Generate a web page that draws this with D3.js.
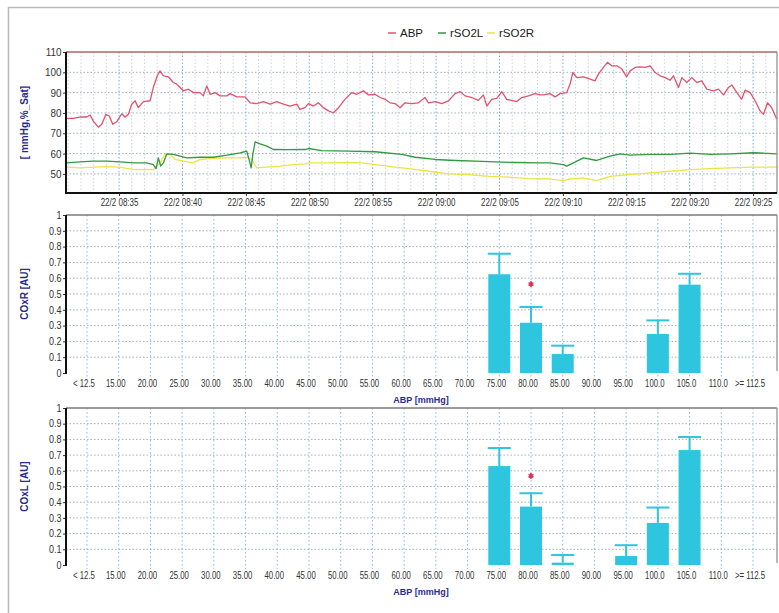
<!DOCTYPE html>
<html><head><meta charset="utf-8">
<script src="https://cdn.jsdelivr.net/npm/d3@7"></script>
<style>
html,body{margin:0;padding:0;background:#fff;}
svg{display:block;}
text{font-family:"Liberation Sans Narrow","Arial Narrow","Liberation Sans",Arial,sans-serif;}
</style></head><body>
<svg id="c" width="779" height="613"></svg>
<script>
// ---------- DATA ----------
const dateLabel = "22/2";
const timeStart = "08:30:49", timeEnd = "09:26:53";

const abpTimes = ["08:30:49","08:31:24","08:31:55","08:32:27","08:32:43","08:32:58","08:33:22","08:33:38","08:33:58","08:34:14","08:34:30","08:34:49","08:35:13","08:35:28","08:35:44","08:36:00","08:36:16","08:36:31","08:36:55","08:37:27","08:37:42","08:38:01","08:38:14","08:38:30","08:38:53","08:39:17","08:39:33","08:39:49","08:40:04","08:40:28","08:40:52","08:41:23","08:41:39","08:41:55","08:42:11","08:42:34","08:42:58","08:43:30","08:43:45","08:44:17","08:44:56","08:45:20","08:45:51","08:46:23","08:46:55","08:47:26","08:47:58","08:48:29","08:49:01","08:49:16","08:49:40","08:49:56","08:50:20","08:50:43","08:51:07","08:51:31","08:51:54","08:52:18","08:52:49","08:53:21","08:53:45","08:54:16","08:54:40","08:55:11","08:55:35","08:55:59","08:56:22","08:56:46","08:57:10","08:57:33","08:58:05","08:58:36","08:59:08","08:59:24","08:59:55","09:00:27","09:00:58","09:01:30","09:01:54","09:02:17","09:02:49","09:03:20","09:03:44","09:04:00","09:04:23","09:04:47","09:05:11","09:05:34","09:05:58","09:06:22","09:06:45","09:07:17","09:07:48","09:08:12","09:08:28","09:08:59","09:09:23","09:09:47","09:10:18","09:10:34","09:10:47","09:11:06","09:11:37","09:12:09","09:12:32","09:12:48","09:13:12","09:13:31","09:13:51","09:14:15","09:14:39","09:15:02","09:15:18","09:15:42","09:16:05","09:16:29","09:16:53","09:17:16","09:17:40","09:18:04","09:18:27","09:18:43","09:19:07","09:19:23","09:19:46","09:20:10","09:20:34","09:20:57","09:21:21","09:21:52","09:22:16","09:22:40","09:23:03","09:23:19","09:23:43","09:24:06","09:24:22","09:24:46","09:25:10","09:25:33","09:25:49","09:26:08","09:26:28","09:26:52"];
const abpValues = [77.3,77.3,78,78,79,76,73,74.4,79.3,78.5,74.4,75.7,79.6,78,79.3,84.3,86,82.6,85.6,86,92.5,98.3,100.7,98.3,97.8,95,94.2,92.5,90.9,91.7,90,90,88.4,93.3,89.2,90,88.4,88.4,89.5,87.9,87.9,85,84.6,85.6,84.3,85.6,84.3,83.4,84.3,81.8,82.6,84.6,83.4,85,82.6,81,80.1,82.6,86.7,90,89.2,90.9,88.9,89.2,87.6,86.7,85,84.6,82.6,85,84.6,85,87.6,85,85.6,84.6,85.9,89.5,90.5,88.4,87.6,86.2,88.9,83.4,86.7,87.2,90.5,86.7,86.2,85.6,87.6,88.4,89.5,88.9,88.9,89.5,87.9,89.5,90,94.2,99.9,97.4,97.8,96.6,95.8,99.1,102.4,104.9,103.2,103.2,101.6,97.8,100.7,102.4,102.7,102.4,103.2,99.9,98.3,97.4,96.1,98.3,92.5,97.4,95,97.4,95,95.8,91.7,90.9,91.7,88.9,92.5,93.8,90,86.7,91.2,90,85.9,81,79.3,85,82.6,76.9];

const rso2lTimes = ["08:30:49","08:31:55","08:32:58","08:34:02","08:35:05","08:36:08","08:37:11","08:37:42","08:37:55","08:38:06","08:38:17","08:38:30","08:38:46","08:39:17","08:39:49","08:40:20","08:41:23","08:42:26","08:43:30","08:44:33","08:45:04","08:45:17","08:45:25","08:45:33","08:45:44","08:46:07","08:46:39","08:47:10","08:48:13","08:49:40","08:49:56","08:50:59","08:53:05","08:55:11","08:57:18","08:58:21","08:59:55","09:01:30","09:03:05","09:04:39","09:06:14","09:08:12","09:08:59","09:10:03","09:10:18","09:10:50","09:11:37","09:12:40","09:13:43","09:14:31","09:15:18","09:16:53","09:18:27","09:20:02","09:21:37","09:23:11","09:25:02","09:26:53"];
const rso2lValues = [55.4,55.9,56.3,56.3,55.9,55.4,55.4,54.6,52.6,57.9,53.8,55.4,59.9,59.6,58.7,57.9,58.2,58.2,59.2,60.4,61.2,56.3,53,59.6,65.8,64.8,63.7,62,61.9,62,62.5,61.5,61.2,60.9,59.6,58.2,57.1,56.6,56.3,55.9,55.6,55.4,55.4,54.6,53.8,55.4,57.9,56.6,58.7,59.9,59.2,59.6,59.6,60.2,59.6,59.9,60.4,59.9];

const rso2rTimes = ["08:30:49","08:31:55","08:32:58","08:34:02","08:35:05","08:36:08","08:37:11","08:37:42","08:38:14","08:38:38","08:39:01","08:39:25","08:40:04","08:40:52","08:41:23","08:42:26","08:43:30","08:44:33","08:45:04","08:45:28","08:45:51","08:46:39","08:47:42","08:48:45","08:49:40","08:49:56","08:51:31","08:53:05","08:54:08","08:55:11","08:56:46","08:57:49","08:59:24","09:00:58","09:02:33","09:04:08","09:05:42","09:07:17","09:08:12","09:08:44","09:10:03","09:10:34","09:11:37","09:12:40","09:13:43","09:15:18","09:16:53","09:18:27","09:20:02","09:21:37","09:23:11","09:25:02","09:26:53"];
const rso2rValues = [53.3,53,53.3,53.6,53.3,52.1,52.1,52.1,55.4,59.6,59.6,57.1,56.3,55.4,57.1,57.6,57.9,57.9,58.2,57.1,53,53.3,53.8,54.6,54.9,55.4,55.4,55.6,55.4,54.6,53.3,52.6,51.3,50,49.7,48.8,48.4,47.7,47.5,47.7,46.7,47.5,48,46.7,48.8,49.7,50.5,51.3,52.1,52.6,53,53.3,53.3];

const seriesNames = ["ABP","rSO2L","rSO2R"];
const seriesColors = ["#e2536c","#2f9a40","#ece544"];
const topTicks = [50,60,70,80,90,100,110];

const categories = ["< 12.5","15.00","20.00","25.00","30.00","35.00","40.00","45.00","50.00","55.00","60.00","65.00","70.00","75.00","80.00","85.00","90.00","95.00","100.0","105.0","110.0",">= 112.5"];
const coxRCats = ["75.00","80.00","85.00","100.0","105.0"];
const coxRMean = [0.625,0.318,0.12,0.247,0.559];
const coxRUpper = [0.755,0.418,0.173,0.333,0.628];
const coxRStar = {cat:"80.00", value:0.563};

const coxLCats = ["75.00","80.00","85.00","95.00","100.0","105.0"];
const coxLMean = [0.63,0.372,0.015,0.057,0.268,0.732];
const coxLUpper = [0.745,0.457,0.064,0.126,0.366,0.815];
const coxLStar = {cat:"80.00", value:0.568};

const barTicks = [0,0.1,0.2,0.3,0.4,0.5,0.6,0.7,0.8,0.9,1];

// ---------- DRAW ----------
const svg = d3.select("#c");
const parse = d3.timeParse("%H:%M:%S");
const L = 66, R = 777;
const navy = "#2b2b8e";
const sans = "'Liberation Sans',Arial,sans-serif";

svg.append("rect").attr("x",8.5).attr("y",7.5).attr("width",800).attr("height",700)
  .attr("fill","none").attr("stroke","#b9b9b9").attr("stroke-width",1.5);

// ---- top panel ----
const T0 = 52, T1 = 193;
const x = d3.scaleTime().domain([parse(timeStart), parse(timeEnd)]).range([L, R]);
const yT = d3.scaleLinear().domain([40.6,110]).range([T1, T0]);

const gT = svg.append("g");
const minutes = d3.timeMinute.range(parse(timeStart), parse(timeEnd));
gT.selectAll("line.vg").data(minutes).join("line")
  .attr("x1", d=>x(d)).attr("x2", d=>x(d)).attr("y1", T0).attr("y2", T1)
  .attr("stroke", d=> d.getMinutes()%5===0 ? "#78aed6" : "#c9d3de")
  .attr("stroke-width",1).attr("stroke-dasharray","1.5,2");
gT.selectAll("line.hg").data(topTicks.filter(v=>v<110)).join("line")
  .attr("x1", L).attr("x2", R).attr("y1", d=>yT(d)).attr("y2", d=>yT(d))
  .attr("stroke","#9fb0c2").attr("stroke-width",1).attr("stroke-dasharray","1.5,2");

const seriesData = [
  d3.zip(rso2rTimes, rso2rValues),
  d3.zip(rso2lTimes, rso2lValues),
  d3.zip(abpTimes, abpValues)
];
const seriesCol = [seriesColors[2], seriesColors[1], seriesColors[0]];
const line = d3.line().x(d=>x(parse(d[0]))).y(d=>yT(d[1]));
seriesData.forEach((s,i)=>{
  gT.append("path").datum(s).attr("d", line).attr("fill","none")
    .attr("stroke", seriesCol[i]).attr("stroke-width", 1.3).attr("stroke-linejoin","round");
});

// borders
gT.append("line").attr("x1",L).attr("x2",R).attr("y1",T0).attr("y2",T0).attr("stroke","#a86a66").attr("stroke-width",1.5);
gT.append("line").attr("x1",R).attr("x2",R).attr("y1",T0).attr("y2",T1).attr("stroke","#8a8a8a").attr("stroke-width",1.2);
gT.append("line").attr("x1",L).attr("x2",R).attr("y1",T1).attr("y2",T1).attr("stroke","#111").attr("stroke-width",2);

const yAxT = d3.axisLeft(yT).tickValues(topTicks).tickSize(3).tickPadding(2);
const gyT = gT.append("g").attr("transform",`translate(${L},0)`).call(yAxT);
gyT.select(".domain").remove();
gyT.selectAll("text").attr("font-size",11).attr("fill","#333").style("font-family",null)
  .attr("transform","scale(0.9,1)");
gyT.selectAll("line").attr("stroke","#333");
gT.append("line").attr("x1",L).attr("x2",L).attr("y1",T0).attr("y2",T1+1).attr("stroke","#111").attr("stroke-width",2);

const xAxT = d3.axisBottom(x).ticks(d3.timeMinute.every(5)).tickSize(3).tickPadding(3)
  .tickFormat(d => dateLabel + " " + d3.timeFormat("%H:%M")(d));
const gxT = gT.append("g").attr("transform",`translate(0,${T1})`).call(xAxT);
gxT.select(".domain").remove();
gxT.selectAll("text").attr("font-size",10).attr("fill","#333").style("font-family",null)
  .attr("transform","scale(0.8,1)");
gxT.selectAll("line").attr("stroke","#333");

svg.append("text").attr("transform",`translate(28,${(T0+T1)/2}) rotate(-90)`)
  .attr("text-anchor","middle").attr("font-size",10).attr("font-weight","bold")
  .attr("fill",navy).style("font-family",sans).text("[ mmHg,%_Sat]");

// legend
const legX = [388, 438, 487];
seriesNames.forEach((n,i)=>{
  svg.append("line").attr("x1",legX[i]).attr("x2",legX[i]+8).attr("y1",33).attr("y2",33)
    .attr("stroke",seriesColors[i]).attr("stroke-width",1.5);
  svg.append("text").attr("x",legX[i]+12).attr("y",37).attr("font-size",11.5)
    .attr("fill","#1a1a1a").attr("font-weight",500).style("font-family",sans).text(n);
});

// ---- bar panels ----
const xb = d3.scalePoint().domain(categories).range([87, 753]);
const barW = 22;

function barPanel(top, bottom, cats, mean, upper, star, title) {
  const g = svg.append("g");
  const y = d3.scaleLinear().domain([0,1]).range([bottom, top]);
  g.selectAll("line.hg").data(barTicks.filter(v=>v>0 && v<1)).join("line")
    .attr("x1",L).attr("x2",R).attr("y1",d=>y(d)).attr("y2",d=>y(d))
    .attr("stroke","#9fb0c2").attr("stroke-width",1).attr("stroke-dasharray","1.5,2");
  g.selectAll("line.vg").data(categories).join("line")
    .attr("x1",d=>xb(d)).attr("x2",d=>xb(d)).attr("y1",top).attr("y2",bottom+4)
    .attr("stroke","#86bcdc").attr("stroke-width",1).attr("stroke-dasharray","1.5,2.5");
  g.append("line").attr("x1",L).attr("x2",R).attr("y1",top).attr("y2",top).attr("stroke","#7a7a7a").attr("stroke-width",1.5);
  g.append("line").attr("x1",R).attr("x2",R).attr("y1",top).attr("y2",bottom-2).attr("stroke","#8a8a8a").attr("stroke-width",1.2);

  const d = cats.map((c,i)=>({c, m:mean[i], u:upper[i]}));
  const color = "#2ec5de";
  g.selectAll("rect.bar").data(d).join("rect")
    .attr("x",e=>xb(e.c)-barW/2).attr("width",barW)
    .attr("y",e=>y(e.m)).attr("height",e=>y(0)-y(e.m)).attr("fill",color);
  g.selectAll("line.err").data(d).join("line")
    .attr("x1",e=>xb(e.c)).attr("x2",e=>xb(e.c)).attr("y1",e=>y(e.m)).attr("y2",e=>y(e.u))
    .attr("stroke",color).attr("stroke-width",2);
  g.selectAll("line.cap").data(d).join("line")
    .attr("x1",e=>xb(e.c)-barW/2-0.5).attr("x2",e=>xb(e.c)+barW/2+0.5).attr("y1",e=>y(e.u)).attr("y2",e=>y(e.u))
    .attr("stroke",color).attr("stroke-width",2);
  g.append("path").attr("d", d3.symbol(d3.symbolAsterisk, 22)())
    .attr("transform",`translate(${xb(star.cat)},${y(star.value)})`)
    .attr("fill","none").attr("stroke","#e0304c").attr("stroke-width",1.6);

  const ya = d3.axisLeft(y).tickValues(barTicks).tickSize(3).tickPadding(2)
    .tickFormat(v => v===0 ? "0" : v===1 ? "1" : d3.format(".1f")(v));
  const gy = g.append("g").attr("transform",`translate(${L},0)`).call(ya);
  gy.select(".domain").remove();
  gy.selectAll("text").attr("font-size",10).attr("fill","#333").style("font-family",null)
    .attr("transform","scale(0.9,1)");
  gy.selectAll("line").attr("stroke","#333");
  g.append("line").attr("x1",L).attr("x2",L).attr("y1",top).attr("y2",bottom+1).attr("stroke","#111").attr("stroke-width",2);

  g.selectAll("g.xl").data(categories).join("g")
    .attr("transform",c=>`translate(${xb(c)-3},${bottom+14})`)
    .append("text").attr("text-anchor","middle").attr("transform","scale(0.78,1)")
    .attr("font-size",10).attr("fill","#333").text(c=>c);
  g.append("text").attr("x",421).attr("y",bottom+30).attr("text-anchor","middle")
    .attr("font-size",9).attr("font-weight","bold").attr("fill",navy)
    .style("font-family",sans).text("ABP [mmHg]");
  svg.append("text").attr("transform",`translate(28,${(top+bottom)/2}) rotate(-90)`)
    .attr("text-anchor","middle").attr("font-size",10).attr("font-weight","bold")
    .attr("fill",navy).style("font-family",sans).text(title);
}
barPanel(215, 373, coxRCats, coxRMean, coxRUpper, coxRStar, "COxR [AU]");
barPanel(408, 565, coxLCats, coxLMean, coxLUpper, coxLStar, "COxL [AU]");
</script>
</body></html>
